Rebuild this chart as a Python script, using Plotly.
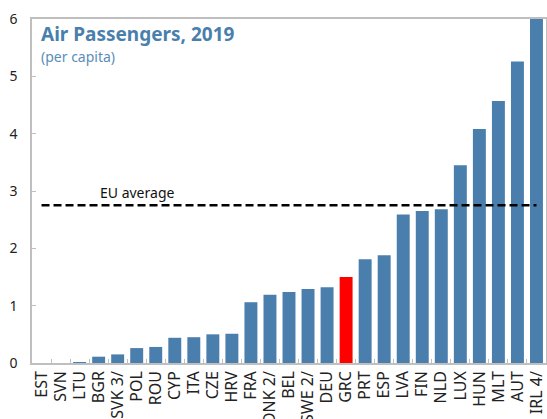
import plotly.graph_objects as go

countries = ["EST", "SVN", "LTU", "BGR", "SVK 3/", "POL", "ROU", "CYP", "ITA", "CZE",
             "HRV", "FRA", "DNK 2/", "BEL", "SWE 2/", "DEU", "GRC", "PRT", "ESP", "LVA",
             "FIN", "NLD", "LUX", "HUN", "MLT", "AUT", "IRL 4/"]
passengers = [0.0, 0.0, 0.01, 0.11, 0.15, 0.26, 0.28, 0.44, 0.45, 0.50,
              0.51, 1.06, 1.19, 1.24, 1.29, 1.32, 1.50, 1.81, 1.88, 2.59,
              2.65, 2.68, 3.45, 4.08, 4.57, 5.26, 6.0]
eu_average = 2.75
highlight = "GRC"
y_ticks = [0, 1, 2, 3, 4, 5, 6]

BLUE = "#4A7FAD"
RED = "#FF0000"
FONT = "Noto Sans"

colors = [RED if c == highlight else BLUE for c in countries]

fig = go.Figure()
fig.add_trace(go.Bar(x=countries, y=passengers, marker=dict(color=colors, line=dict(width=0)),
                     width=0.68, showlegend=False, hoverinfo="x+y", cliponaxis=True))
fig.add_trace(go.Scatter(x=[countries[0], countries[-1]], y=[eu_average, eu_average],
                         mode="lines", line=dict(color="black", width=2.5, dash="8px,4px"),
                         showlegend=False, hoverinfo="skip"))

fig.add_annotation(x="POL", y=2.98, xref="x", yref="y", text="EU average", showarrow=False,
                   font=dict(family=FONT, size=14, color="#111111"), xanchor="center", yanchor="middle")
fig.add_annotation(x=0.014, y=1.0, xref="paper", yref="paper", text="<b>Air Passengers, 2019</b>",
                   showarrow=False, xanchor="left", yanchor="top",
                   font=dict(family=FONT, size=19, color=BLUE))
fig.add_annotation(x=0.014, y=0.925, xref="paper", yref="paper", text="(per capita)",
                   showarrow=False, xanchor="left", yanchor="top",
                   font=dict(family=FONT, size=14, color="#5B8DB8"))

fig.update_layout(
    width=547, height=419,
    margin=dict(l=32, r=1, t=19, b=56, autoexpand=False),
    paper_bgcolor="white", plot_bgcolor="white",
    font=dict(family=FONT, size=13, color="#222222"),
    bargap=0.3,
)
fig.update_xaxes(showline=True, linecolor="#BFBFBF", linewidth=1.5, mirror=True,
                 ticks="inside", tickson="boundaries", ticklen=4, tickcolor="#BFBFBF",
                 tickangle=-90, tickfont=dict(family=FONT, size=16, color="#222222"),
                 showgrid=False, automargin=False, fixedrange=True)
fig.update_yaxes(range=[0, 6], tickvals=y_ticks, showline=True, linecolor="#BFBFBF", linewidth=1.5,
                 mirror=True, ticks="inside", ticklen=4, tickcolor="#BFBFBF",
                 tickfont=dict(family=FONT, size=14, color="#222222"), ticklabelstandoff=10,
                 showgrid=False, zeroline=False, automargin=False, fixedrange=True)

fig.write_html("out.html", config={"displayModeBar": False},
               post_script="document.body.style.margin='0';document.body.style.overflow='hidden';")
